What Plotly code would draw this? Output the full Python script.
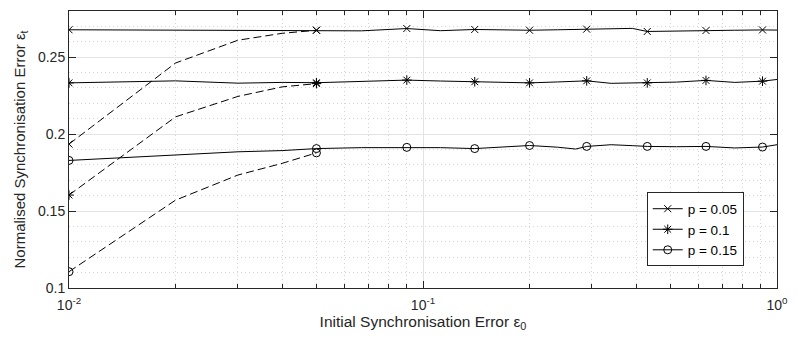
import plotly.graph_objects as go

# ---------------- data ----------------
x_solid = [0.01, 0.02, 0.03, 0.04, 0.05, 0.067, 0.09, 0.112, 0.14, 0.168, 0.2,
           0.24, 0.27, 0.29, 0.34, 0.39, 0.43, 0.52, 0.63, 0.76, 0.91, 1.0]
solid_p005 = [0.2678, 0.2677, 0.2676, 0.2676, 0.2675, 0.2671, 0.2686, 0.2672, 0.2680, 0.2676, 0.2675,
              0.2678, 0.2680, 0.2682, 0.2681, 0.2687, 0.2667, 0.2671, 0.2673, 0.2675, 0.2677, 0.2676]
solid_p010 = [0.2333, 0.2346, 0.2331, 0.2336, 0.2334, 0.2342, 0.2351, 0.2345, 0.2340, 0.2338, 0.2333,
              0.2339, 0.2343, 0.2346, 0.2330, 0.2332, 0.2333, 0.2338, 0.2349, 0.2336, 0.2344, 0.2355]
solid_p015 = [0.1829, 0.1862, 0.1885, 0.1893, 0.1906, 0.1912, 0.1914, 0.1912, 0.1906, 0.1916, 0.1926,
              0.1915, 0.1903, 0.1920, 0.1931, 0.1925, 0.1920, 0.1918, 0.1920, 0.1910, 0.1916, 0.1931]
solid_marker_idx = [0, 4, 6, 8, 10, 13, 16, 18, 20]

x_dashed = [0.01, 0.02, 0.03, 0.04, 0.05]
dashed_p005 = [0.1935, 0.2462, 0.2610, 0.2655, 0.2675]
dashed_p010 = [0.1604, 0.2112, 0.2245, 0.2307, 0.2328]
dashed_p015 = [0.1106, 0.1571, 0.1734, 0.1810, 0.1878]
dashed_marker_idx = [0, 4]

labels = ["p = 0.05", "p = 0.1", "p = 0.15"]
symbols = ["x-thin-open", "asterisk-open", "circle-open"]
sizes = [7, 8, 8]

x_tickvals = [0.01, 0.1, 1]
x_ticktext = ["10<sup>-2</sup>", "10<sup>-1</sup>", "10<sup>0</sup>"]

# ---------------- figure ----------------
fig = go.Figure()
black = "black"
series = [(solid_p005, dashed_p005), (solid_p010, dashed_p010), (solid_p015, dashed_p015)]

for (ys, yd), lab, sym, sz in zip(series, labels, symbols, sizes):
    mk = dict(symbol=sym, size=sz, color=black, line=dict(color=black, width=1))
    fig.add_trace(go.Scatter(x=x_solid, y=ys, mode="lines",
                             line=dict(color=black, width=1), showlegend=False, hoverinfo="skip"))
    fig.add_trace(go.Scatter(x=[x_solid[i] for i in solid_marker_idx],
                             y=[ys[i] for i in solid_marker_idx],
                             mode="markers", marker=mk, showlegend=False))
    fig.add_trace(go.Scatter(x=x_dashed, y=yd, mode="lines",
                             line=dict(color=black, width=1, dash="8px,4px"),
                             showlegend=False, hoverinfo="skip"))
    fig.add_trace(go.Scatter(x=[x_dashed[i] for i in dashed_marker_idx],
                             y=[yd[i] for i in dashed_marker_idx],
                             mode="markers", marker=mk, showlegend=False))
    fig.add_trace(go.Scatter(x=[None], y=[None], mode="lines+markers", name=lab,
                             line=dict(color=black, width=1), marker=mk, showlegend=True))

axis_col = "#262626"
txt_col = "#262626"
font_fam = "Liberation Sans, Arial, Helvetica"
minor_x = [k * 10.0 ** e for e in (-2, -1) for k in range(2, 10)]

fig.update_xaxes(
    type="log", range=[-2, 0],
    tickmode="array", tickvals=x_tickvals, ticktext=x_ticktext,
    ticks="inside", ticklen=7, tickcolor=axis_col, tickwidth=1,
    ticklabelstandoff=4, ticklabeloverflow="allow",
    showline=True, linecolor=axis_col, linewidth=1, mirror="ticks",
    showgrid=True, gridcolor="#e3e3e3", gridwidth=1,
    minor=dict(tickmode="array", tickvals=minor_x, ticks="inside", ticklen=4,
               tickcolor=axis_col, showgrid=True, gridcolor="#d4d4d4", griddash="1px,3px"),
    zeroline=False,
    tickfont=dict(family=font_fam, size=14, color=txt_col),
    title=dict(text="Initial Synchronisation Error ε<sub>0</sub>",
               font=dict(family=font_fam, size=15.5, color=txt_col),
               standoff=3),
)
fig.update_yaxes(
    range=[0.1, 0.28], tickmode="linear", tick0=0.1, dtick=0.05,
    ticks="inside", ticklen=7, tickcolor=axis_col, tickwidth=1,
    ticklabeloverflow="allow",
    showline=True, linecolor=axis_col, linewidth=1, mirror="ticks",
    showgrid=True, gridcolor="#e3e3e3", gridwidth=1,
    minor=dict(tick0=0.1, dtick=0.01, ticks="", showgrid=True,
               gridcolor="#d4d4d4", griddash="1px,3px"),
    zeroline=False,
    tickfont=dict(family=font_fam, size=14, color=txt_col),
    title=dict(text="Normalised Synchronisation Error ε<sub>t</sub>",
               font=dict(family=font_fam, size=15, color=txt_col),
               standoff=8),
)

fig.update_layout(
    width=798, height=343,
    margin=dict(l=69, r=11, t=10, b=55),
    paper_bgcolor="white", plot_bgcolor="white",
    font=dict(family=font_fam, size=13, color=txt_col),
    legend=dict(x=0.816, y=0.345, xanchor="left", yanchor="top",
                bgcolor="white", bordercolor=axis_col, borderwidth=1,
                font=dict(family=font_fam, size=13.5, color="black"), tracegroupgap=0,
                itemwidth=30),
    showlegend=True,
)

fig.write_html("out.html", config={"displayModeBar": False},
               post_script="document.body.style.margin='0';")
